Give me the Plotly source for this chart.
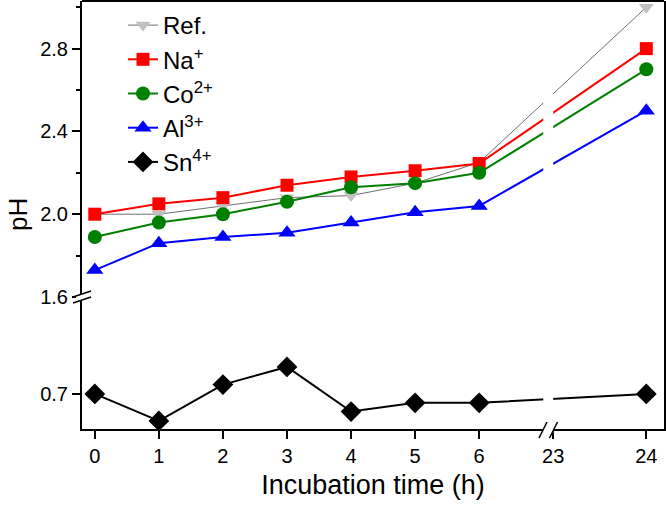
import plotly.graph_objects as go

# ---------------- data ----------------
hours = [0, 1, 2, 3, 4, 5, 6, 24]
ref = [2.00, 2.00, 2.04, 2.08, 2.09, 2.15, 2.25, 3.00]
na = [2.00, 2.05, 2.08, 2.14, 2.18, 2.21, 2.245, 2.80]
co = [1.89, 1.96, 2.00, 2.06, 2.13, 2.15, 2.20, 2.70]
al = [1.73, 1.86, 1.89, 1.91, 1.96, 2.01, 2.04, 2.50]
sn = [0.70, 0.57, 0.745, 0.83, 0.615, 0.657, 0.657, 0.70]

tick_hours = [0, 1, 2, 3, 4, 5, 6, 23, 24]
tick_labels = [str(h) for h in tick_hours]
upper_ticks = [1.6, 2.0, 2.4, 2.8]
lower_ticks = [0.7]

# ---------------- broken x scale ----------------
SEG1_END = 7.0
GAP = 0.156
SEG2_START = 23.0
SEG2_SCALE = 1.453


def xpos(h):
    return h if h <= SEG1_END else SEG1_END + GAP + (h - SEG2_START) * SEG2_SCALE


X = [xpos(h) for h in hours]

# plot geometry (px)
W, H = 666, 509
L, R, T, B = 82, 2, 1, 80
PW, PH = W - L - R, H - T - B
SPLIT = 0.3084  # lower panel fraction


def px(xp):
    return (xp - L) / PW


def py(yp):
    return 1 - (yp - T) / PH


FONT = "Arial, Liberation Sans, sans-serif"

fig = go.Figure()

series = [
    ("Ref.", ref, dict(color="#c0c0c0", symbol="triangle-down", size=13), dict(color="#707070", width=1), "y"),
    ("Na<sup>+</sup>", na, dict(color="#ff0000", symbol="square", size=13), dict(color="#ff0000", width=2), "y"),
    ("Co<sup>2+</sup>", co, dict(color="#008000", symbol="circle", size=14), dict(color="#008000", width=2), "y"),
    ("Al<sup>3+</sup>", al, dict(color="#0000ff", symbol="triangle-up", size=15), dict(color="#0000ff", width=2), "y"),
    ("Sn<sup>4+</sup>", sn, dict(color="#000000", symbol="diamond", size=16), dict(color="#000000", width=2), "y2"),
]
for i, (name, vals, mk, ln, ya) in enumerate(series):
    fig.add_trace(go.Scatter(
        x=X, y=vals, name=name, mode="lines+markers",
        marker=mk, line=ln, xaxis="x", yaxis=ya,
        legendgroup=f"g{i}", cliponaxis=False,
    ))

axis_common = dict(
    showline=True, linecolor="black", linewidth=2,
    ticks="outside", tickcolor="black", tickwidth=1.5,
    showgrid=False, zeroline=False,
    tickfont=dict(family=FONT, size=20, color="black"),
)

fig.update_layout(
    width=W, height=H,
    margin=dict(l=L, r=R, t=T, b=B, autoexpand=False),
    paper_bgcolor="white", plot_bgcolor="white",
    showlegend=True,
    legend=dict(
        x=px(123), y=py(3), xanchor="left", yanchor="top",
        font=dict(family=FONT, size=24, color="black"),
        bgcolor="rgba(0,0,0,0)", traceorder="grouped", tracegroupgap=0,
    ),
    xaxis=dict(
        **axis_common, anchor="y2", domain=[0, 1],
        range=[-0.2, xpos(24.19)],
        tickmode="array", tickvals=[xpos(h) for h in tick_hours], ticktext=tick_labels,
        ticklen=8,
        title=dict(text="Incubation time (h)", font=dict(family=FONT, size=27, color="black"), standoff=9),
    ),
    yaxis=dict(
        **axis_common, anchor="x", domain=[SPLIT, 1], mirror=True,
        range=[1.6, 3.03], tickmode="array", tickvals=upper_ticks,
        ticktext=[f"{v:.1f}" for v in upper_ticks], ticklen=8,
        minor=dict(tickvals=[1.8, 2.2, 2.6, 3.0], ticklen=4, tickwidth=1.5, tickcolor="black", ticks="outside"),
    ),
    yaxis2=dict(
        **axis_common, anchor="x", domain=[0, SPLIT], mirror=True,
        range=[0.531, 1.167], tickmode="array", tickvals=lower_ticks,
        ticktext=[f"{v:.1f}" for v in lower_ticks], ticklen=8,
    ),
)

shapes = []
# top border
shapes.append(dict(type="line", xref="paper", yref="paper", x0=0, x1=1, y0=1, y1=1,
                   line=dict(color="black", width=2), layer="above"))
# x break: white band
shapes.append(dict(type="rect", xref="x", yref="paper", x0=SEG1_END, x1=SEG1_END + GAP,
                   y0=py(433), y1=py(3), fillcolor="white", line=dict(width=0), layer="above"))
for cx in (543, 553.5):
    shapes.append(dict(type="line", xref="paper", yref="paper",
                       x0=px(cx - 4), x1=px(cx + 4), y0=py(438), y1=py(422),
                       line=dict(color="black", width=1.5), layer="above"))
# y break
shapes.append(dict(type="rect", xref="paper", yref="paper", x0=px(76), x1=px(88),
                   y0=py(300), y1=py(294), fillcolor="white", line=dict(width=0), layer="above"))
for cy in (294, 300):
    shapes.append(dict(type="line", xref="paper", yref="paper",
                       x0=px(73), x1=px(91), y0=py(cy + 3), y1=py(cy - 3),
                       line=dict(color="black", width=1.5), layer="above"))
fig.update_layout(shapes=shapes)

fig.add_annotation(text="pH", xref="paper", yref="paper", x=px(1), y=0.5,
                   textangle=-90, showarrow=False, xanchor="left", yanchor="middle",
                   font=dict(family=FONT, size=26, color="black"))

fig.write_html(
    "out.html",
    config={"displayModeBar": False},
    post_script="document.body.style.margin='0';document.body.style.overflow='hidden';",
)
